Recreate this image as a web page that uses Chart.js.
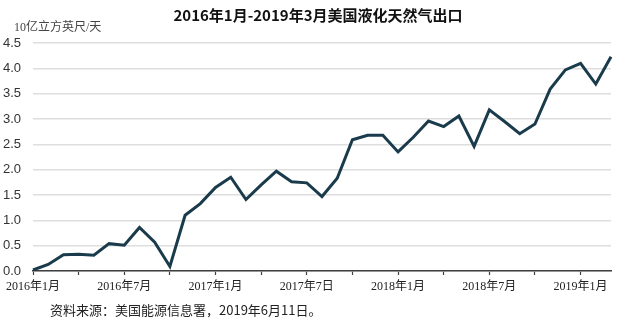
<!DOCTYPE html>
<html>
<head>
<meta charset="utf-8">
<script src="https://cdn.jsdelivr.net/npm/chart.js@4.4.1/dist/chart.umd.min.js"></script>
<style>
html,body{margin:0;padding:0;background:#fff;}
#wrap{width:640px;height:324px;position:relative;}
</style>
</head>
<body>
<div id="wrap"><canvas id="c" width="640" height="324"></canvas></div>
<script>
const titleText = "2016年1月-2019年3月美国液化天然气出口";
const unitText = "10亿立方英尺/天";
const sourceText = "资料来源：美国能源信息署，2019年6月11日。";

const months = [
  "2016-01","2016-02","2016-03","2016-04","2016-05","2016-06","2016-07","2016-08","2016-09","2016-10","2016-11","2016-12",
  "2017-01","2017-02","2017-03","2017-04","2017-05","2017-06","2017-07","2017-08","2017-09","2017-10","2017-11","2017-12",
  "2018-01","2018-02","2018-03","2018-04","2018-05","2018-06","2018-07","2018-08","2018-09","2018-10","2018-11","2018-12",
  "2019-01","2019-02","2019-03"
];
const tickLabels = {0:"2016年1月",6:"2016年7月",12:"2017年1月",18:"2017年7日",24:"2018年1月",30:"2018年7月",36:"2019年1月"};
const exports = [
  0.02,0.13,0.32,0.33,0.31,0.54,0.51,0.86,0.57,0.09,1.10,1.33,
  1.65,1.85,1.41,1.70,1.97,1.76,1.74,1.47,1.83,2.59,2.68,2.68,
  2.35,2.64,2.96,2.85,3.06,2.46,3.18,2.95,2.71,2.90,3.59,3.97,
  4.10,3.69,4.23
];

const textPlugin = {
  id: 'texts',
  afterDraw(chart) {
    const ctx = chart.ctx;
    ctx.save();
    ctx.fillStyle = '#111';
    ctx.font = 'bold 15px "Noto Sans CJK SC", sans-serif';
    ctx.textAlign = 'center';
    ctx.textBaseline = 'middle';
    ctx.fillText(titleText, 318, 15);
    ctx.fillStyle = '#444';
    ctx.font = '12px "Liberation Serif", "Noto Sans CJK SC", serif';
    ctx.textAlign = 'left';
    ctx.fillText(unitText, 14, 28);
    ctx.fillStyle = '#222';
    ctx.font = '13px "Noto Sans CJK SC", sans-serif';
    ctx.fillText(sourceText, 50, 310);
    ctx.restore();
  }
};

new Chart(document.getElementById('c'), {
  type: 'line',
  data: {
    labels: months,
    datasets: [{
      data: exports,
      borderColor: '#1a3b4b',
      borderWidth: 3,
      pointRadius: 0,
      tension: 0,
      fill: false
    }]
  },
  options: {
    responsive: false,
    animation: false,
    devicePixelRatio: 1,
    layout: { padding: { top: 43, left: 0, right: 29, bottom: 29 } },
    plugins: { legend: { display: false }, title: { display: false }, tooltip: { enabled: false } },
    scales: {
      x: {
        type: 'category',
        offset: false,
        afterFit(s) { s.height = 24; },
        border: { display: true, color: '#404040', width: 1.5 },
        grid: {
          drawOnChartArea: false,
          drawTicks: true,
          tickLength: 4,
          tickWidth: 1.2,
          tickColor: (ctx) => (ctx.index % 3 === 0 ? '#404040' : 'rgba(0,0,0,0)')
        },
        ticks: {
          autoSkip: false,
          maxRotation: 0,
          padding: 5,
          color: '#222',
          font: { family: '"Liberation Serif", "Noto Sans CJK SC", serif', size: 12 },
          callback: (v, i) => (tickLabels[i] !== undefined ? tickLabels[i] : '')
        }
      },
      y: {
        min: 0,
        max: 4.5,
        afterFit(s) { s.width = 33; },
        border: { display: false },
        grid: { color: '#dedede', lineWidth: 1.5, drawTicks: false },
        ticks: {
          stepSize: 0.5,
          padding: 12,
          color: '#333',
          font: { family: '"Liberation Sans", Arial, sans-serif', size: 13 },
          callback: (v) => Number(v).toFixed(1)
        }
      }
    }
  },
  plugins: [textPlugin]
});
</script>
</body>
</html>
